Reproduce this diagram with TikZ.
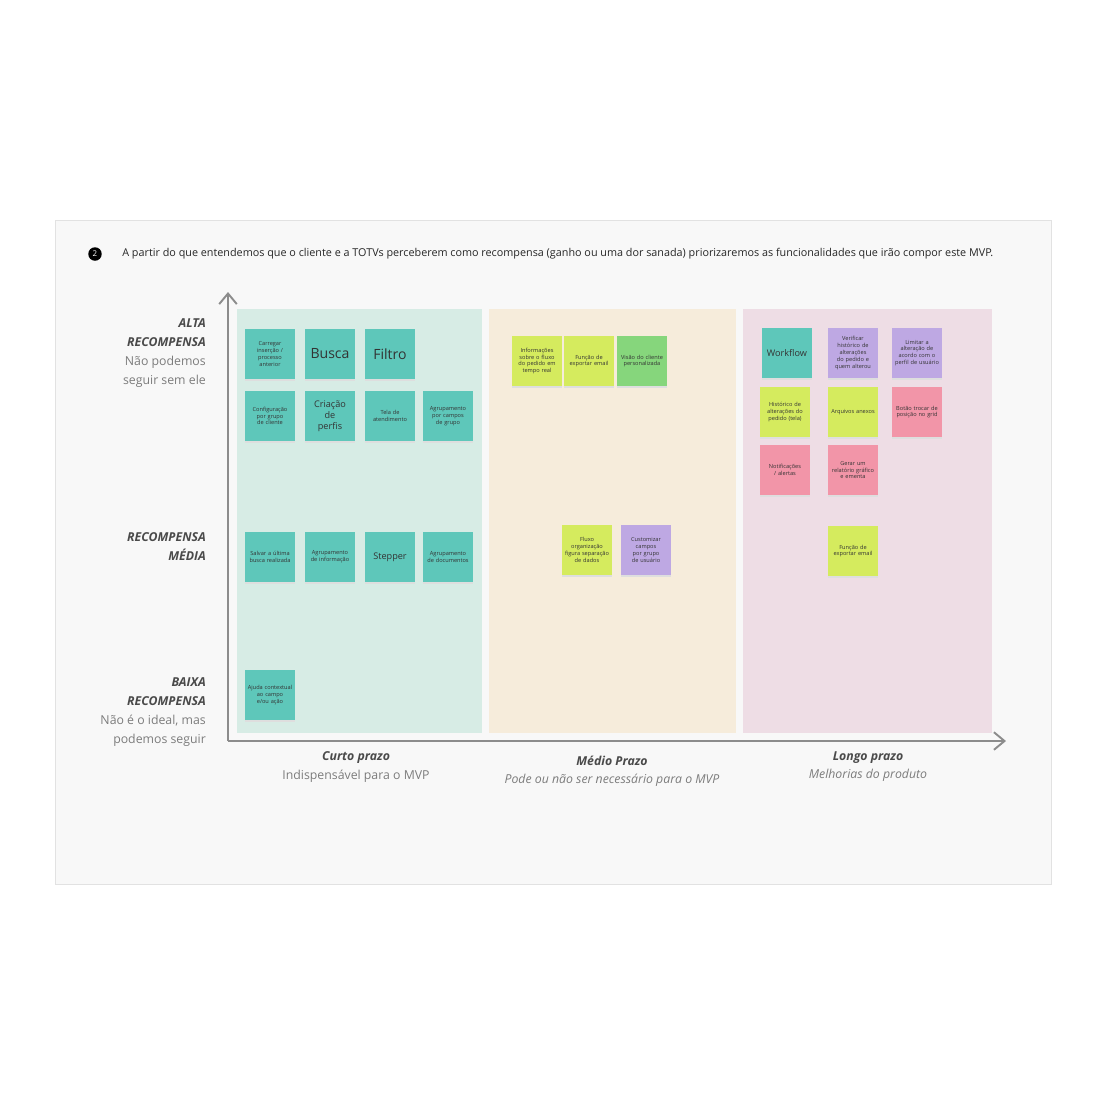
\documentclass[tikz,border=0pt]{standalone}
\usepackage{fontspec}
\setmainfont{Open Sans}
\usetikzlibrary{arrows.meta}
\definecolor{PanelFill}{HTML}{F8F8F8}
\definecolor{PanelLine}{HTML}{E2E2E2}
\definecolor{ColTeal}{HTML}{D7ECE5}
\definecolor{ColSand}{HTML}{F6ECDB}
\definecolor{ColRose}{HTML}{EEDDE5}
\definecolor{NoteTeal}{HTML}{5EC7BA}
\definecolor{NoteLime}{HTML}{D5EB5E}
\definecolor{NoteGreen}{HTML}{86D67C}
\definecolor{NoteLilac}{HTML}{BEA8E3}
\definecolor{NotePink}{HTML}{F295A8}
\definecolor{AxisGray}{HTML}{8C8C8C}
\definecolor{HeadGray}{HTML}{4A4A4A}
\definecolor{SubGray}{HTML}{7C7C7C}
\newcommand{\nohyph}{\hyphenpenalty=10000\relax}

\tikzset{
  sticky/.style={minimum width=1cm,minimum height=1cm,inner sep=1pt,
    text width=0.9cm,align=center,text=black!80,
    font=\fontsize{3.2}{3.9}\selectfont,
    execute at begin node=\nohyph,
    preaction={fill=black!13,transform canvas={yshift=-0.04cm}}},
  bigtext/.style={font=\fontsize{8}{9}\selectfont},
  midtext/.style={font=\fontsize{5.2}{6.2}\selectfont},
  ylab/.style={align=right,font=\fontsize{7}{10.8}\selectfont,text=SubGray},
  xlab/.style={align=center,font=\fontsize{7}{10.3}\selectfont,text=SubGray},
  axis/.style={AxisGray,line width=1.1pt,-{Straight Barb[length=6pt,width=10pt]}}
}

\begin{document}
\begin{tikzpicture}[x=0.02cm,y=-0.02cm]
  \useasboundingbox[fill=white] (0,0) rectangle (1106,1106);
  \fill[PanelFill] (55,220) rectangle (1051,884);
  \draw[PanelLine] (55,220) rectangle (1051,884);

  % header line
  \node[circle,fill=black,text=white,inner sep=0pt,minimum size=0.27cm,
    font=\fontsize{4.5}{5}\selectfont] (num) at (95,254) {2};
  \node[anchor=west,font=\fontsize{6.15}{7}\selectfont,text=black!85,inner sep=0pt]
    (intro) at (122,254) {A partir do que entendemos que o cliente e a TOTVs perceberem como recompensa (ganho ou uma dor sanada) priorizaremos as funcionalidades que irão compor este MVP.};

  % three time columns
  \fill[ColTeal] (237,309) rectangle (482,733);
  \fill[ColSand] (489,309) rectangle (736,733);
  \fill[ColRose] (743,309) rectangle (992,733);

  % axes
  \coordinate (origin) at (228,741);
  \coordinate (ytop) at (228,292);
  \coordinate (xend) at (1006,741);
  \draw[axis] (origin) -- (ytop);
  \draw[axis] (origin) -- (xend);

  % reward labels
  \node[ylab,anchor=east] (alta) at (212,353)
    {\textbf{\textit{\color{HeadGray}ALTA}}\\\textbf{\textit{\color{HeadGray}RECOMPENSA}}\\Não podemos\\seguir sem ele};
  \node[ylab,anchor=east] (media) at (212,547)
    {\textbf{\textit{\color{HeadGray}RECOMPENSA}}\\\textbf{\textit{\color{HeadGray}MÉDIA}}};
  \node[ylab,anchor=east] (baixa) at (212,712)
    {\textbf{\textit{\color{HeadGray}BAIXA}}\\\textbf{\textit{\color{HeadGray}RECOMPENSA}}\\Não é o ideal, mas\\podemos seguir};

  % term labels
  \node[xlab] (curto) at (356,767)
    {\textbf{\textit{\color{HeadGray}Curto prazo}}\\Indispensável para o MVP};
  \node[xlab] (medio) at (612,771)
    {\textbf{\textit{\color{HeadGray}Médio Prazo}}\\\textit{Pode ou não ser necessário para o MVP}};
  \node[xlab] (longo) at (868,767)
    {\textbf{\textit{\color{HeadGray}Longo prazo}}\\\textit{Melhorias do produto}};

  % small notes
  \foreach \nx/\ny/\col/\nm/\txt in {
      270/354/NoteTeal/c1/{Carregar inserção / processo anterior},
      270/416/NoteTeal/c4/{Configuração por grupo de cliente},
      390/416/NoteTeal/c6/{Tela de atendimento},
      448/416/NoteTeal/c7/{Agrupamento por campos de grupo},
      270/557/NoteTeal/c8/{Salvar a última busca realizada},
      330/557/NoteTeal/c9/{Agrupamento de informação},
      448/557/NoteTeal/c11/{Agrupamento de documentos},
      270/695/NoteTeal/c12/{Ajuda contextual ao campo e/ou ação},
      537/361/NoteLime/m1/{Informações sobre o fluxo do pedido em tempo real},
      589/361/NoteLime/m2/{Função de exportar email},
      642/361/NoteGreen/m3/{Visão do cliente personalizada},
      587/550/NoteLime/m4/{Fluxo organização figura separação de dados},
      646/550/NoteLilac/m5/{Customizar campos por grupo de usuário},
      853/353/NoteLilac/l2/{Verificar histórico de alterações do pedido e quem alterou},
      917/353/NoteLilac/l3/{Limitar a alteração de acordo com o perfil de usuário},
      785/412/NoteLime/l4/{Histórico de alterações do pedido (tela)},
      853/412/NoteLime/l5/{Arquivos anexos},
      917/412/NotePink/l6/{Botão trocar de posição no grid},
      785/470/NotePink/l7/{Notificações / alertas},
      853/470/NotePink/l8/{Gerar um relatório gráfico e ementa},
      853/551/NoteLime/l9/{Função de exportar email}}{
    \node[sticky,fill=\col] (\nm) at (\nx,\ny) {\txt};
  }
  % notes with larger words
  \node[sticky,bigtext,fill=NoteTeal] (c2) at (330,354) {Busca};
  \node[sticky,bigtext,fill=NoteTeal] (c3) at (390,354) {Filtro};
  \node[sticky,midtext,fill=NoteTeal] (c5) at (330,416) {Criação\\de\\perfis};
  \node[sticky,midtext,fill=NoteTeal] (c10) at (390,557) {Stepper};
  \node[sticky,midtext,fill=NoteTeal] (l1) at (787,353) {Workflow};
\end{tikzpicture}
\end{document}
